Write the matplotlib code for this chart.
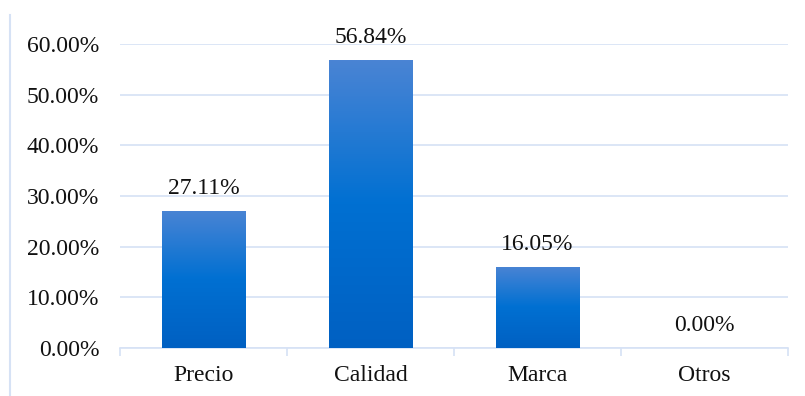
#!/usr/bin/env python3
import matplotlib
matplotlib.use('Agg')
import matplotlib.pyplot as plt
import numpy as np
from matplotlib.colors import LinearSegmentedColormap
from matplotlib.lines import Line2D

categories = ['Precio', 'Calidad', 'Marca', 'Otros']
values = [27.11, 56.84, 16.05, 0.00]
yticks = [0, 10, 20, 30, 40, 50, 60]

plt.rcParams['font.family'] = ['Liberation Serif', 'DejaVu Serif']

fig = plt.figure(figsize=(8.05, 3.96), dpi=100)
ax = fig.add_axes([120/805, 1 - 348/396, 668/805, 304/396])

grid_color = '#d6e2f5'
x = np.arange(len(categories))
bars = ax.bar(x, values, width=0.5, color='none', edgecolor='none', zorder=3)

# gradient fill for each bar
cmap = LinearSegmentedColormap.from_list('g', ['#0060c2', '#0070d2', '#4a84d4'])
grad = np.linspace(0, 1, 256).reshape(-1, 1)
for b in bars:
    if b.get_height() <= 0:
        continue
    x0, y0 = b.get_x(), b.get_y()
    im = ax.imshow(grad, cmap=cmap, origin='lower', aspect='auto',
                   extent=[x0, x0 + b.get_width(), y0, y0 + b.get_height()], zorder=3)
    im.set_clip_path(b)

for xi, v in zip(x, values):
    ax.annotate(f'{v:.2f}%', (xi, v), xytext=(0, 8.5), textcoords='offset points',
                ha='center', va='bottom', fontsize=17, color='#111111', annotation_clip=False)

ax.set_xlim(-0.5, len(categories) - 0.5)
ax.set_ylim(0, 60)
ax.set_yticks(yticks)
ax.set_yticklabels([f'{t:.2f}%' for t in yticks])
ax.set_xticks(x)
ax.set_xticklabels(categories)
ax.set_xticks(np.arange(len(categories) + 1) - 0.5, minor=True)
ax.tick_params(axis='y', length=0, pad=15, labelsize=17, labelcolor='#111111')
ax.tick_params(axis='x', which='major', length=0, pad=12, labelsize=17, labelcolor='#111111')
ax.tick_params(axis='x', which='minor', length=6, width=1.2, color=grid_color)
ax.yaxis.grid(True, color=grid_color, linewidth=1.2, zorder=0)
ax.set_axisbelow(True)
for s in ['left', 'right', 'top']:
    ax.spines[s].set_visible(False)
ax.spines['bottom'].set_color(grid_color)
ax.spines['bottom'].set_linewidth(1.2)

# chart border remnant on the left
fig.add_artist(Line2D([9.5/805, 9.5/805], [0, 1 - 15/396], transform=fig.transFigure,
                      color=grid_color, linewidth=1.5))

fig.savefig('out.png', dpi=100)
